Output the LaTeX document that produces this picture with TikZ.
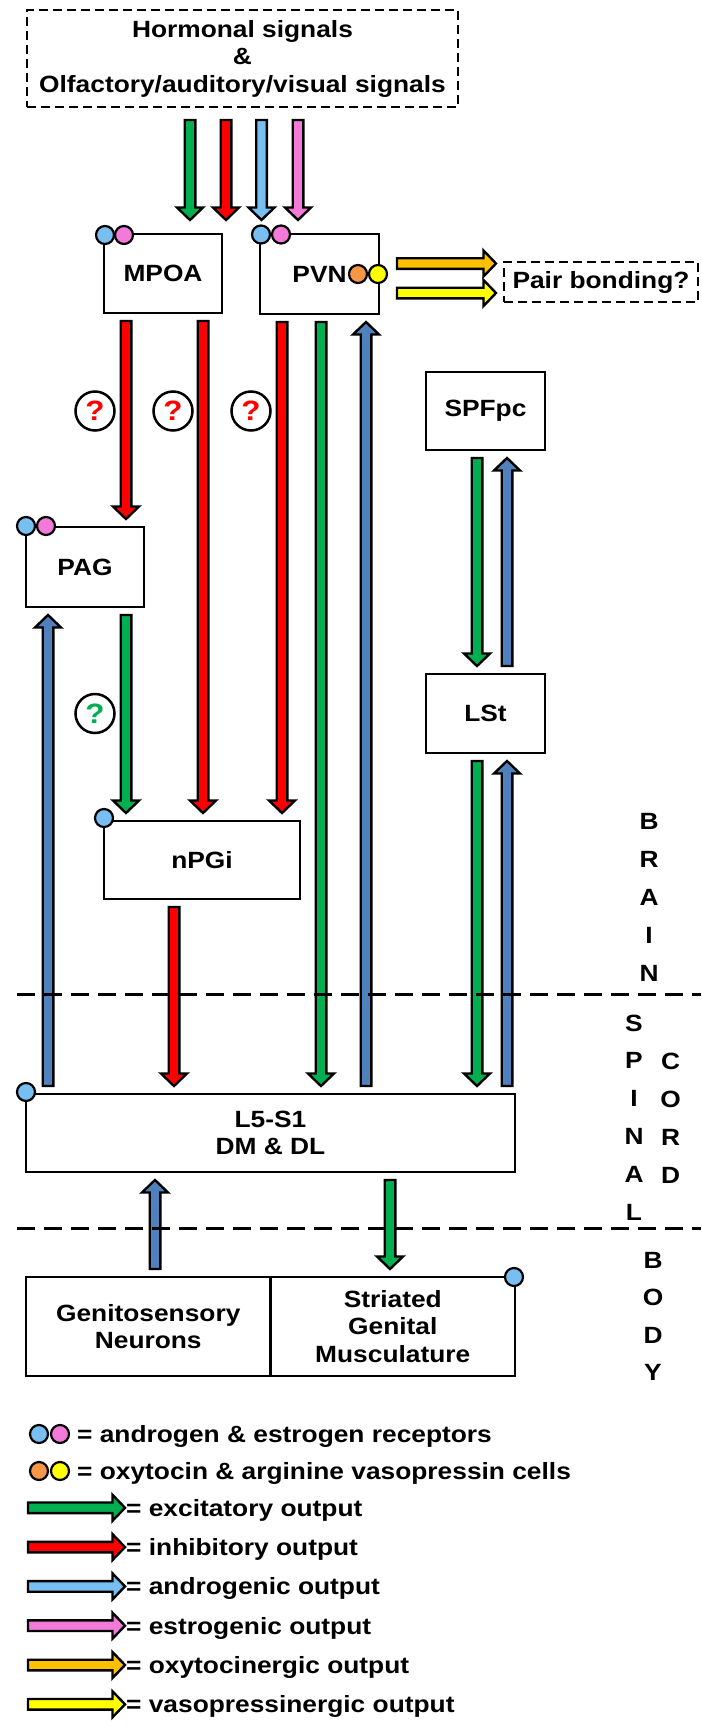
\documentclass[tikz,border=0pt]{standalone}
\usepackage{fontspec}
\setmainfont{Liberation Sans}[FakeStretch=1.12]
\usetikzlibrary{calc}

\definecolor{cgreen}{HTML}{00B050}
\definecolor{cred}{HTML}{FF0000}
\definecolor{clight}{HTML}{79BEF0}
\definecolor{cpink}{HTML}{F47AD9}
\definecolor{csteel}{HTML}{4F81BD}
\definecolor{corange}{HTML}{FFC000}
\definecolor{coxy}{HTML}{F79646}
\definecolor{cyellow}{HTML}{FFFF00}

\newcommand\lbl{\fontsize{23.5}{27.5}\selectfont\bfseries}
\newcommand\qfnt{\fontsize{28}{30}\selectfont\bfseries}
\newcommand\awid{5.3pt}
\newcommand\ahed{13pt}
\newcommand\alen{12.5pt}

\tikzstyle{box}  = [draw, line width=2.6pt, fill=white, outer sep=8pt, inner sep=0pt, align=center, font=\lbl, minimum width=118pt, minimum height=79pt]
\tikzstyle{dbox} = [box, dash pattern=on 9pt off 5pt]
\tikzstyle{rcp}  = [circle, draw, line width=2.2pt, minimum size=18pt, inner sep=0pt]
\tikzstyle{qm}   = [circle, draw, line width=2.5pt, fill=white, minimum size=39pt, inner sep=0pt, font=\qfnt]
\tikzstyle{side} = [inner sep=0pt, font=\lbl]
\tikzstyle{lgd}  = [anchor=west, inner sep=1pt, font=\lbl, text height=20pt, text depth=3.4pt]
\tikzstyle{sep}  = [line width=3pt, dash pattern=on 18pt off 9pt]
\tikzstyle{fat}  = [draw=black, line width=2.4pt, line join=miter, to path={
    ($(\tikztostart)!\awid!90:(\tikztotarget)$)
    -- ($($(\tikztotarget)!\alen!(\tikztostart)$)!\awid!90:(\tikztotarget)$)
    -- ($($(\tikztotarget)!\alen!(\tikztostart)$)!\ahed!90:(\tikztotarget)$)
    -- (\tikztotarget)
    -- ($($(\tikztotarget)!\alen!(\tikztostart)$)!\ahed!-90:(\tikztotarget)$)
    -- ($($(\tikztotarget)!\alen!(\tikztostart)$)!\awid!-90:(\tikztotarget)$)
    -- ($(\tikztostart)!\awid!-90:(\tikztotarget)$)
    -- cycle}]

\begin{document}
\begin{tikzpicture}[x=1pt, y=-1pt]
  \useasboundingbox (0,0) rectangle (701,1731);
  % boxes
  \draw
    node[dbox, outer sep=13pt, minimum width=431pt, minimum height=97pt] (top) at (242.5,58.5) {Hormonal signals\\ \&\\ Olfactory/auditory/visual signals}
    node[box] (mpoa) at (163,273.5) {MPOA}
    node[box, minimum width=119pt, minimum height=80pt] (pvn) at (319.5,274) {PVN}
    node[dbox, minimum width=194pt, minimum height=40pt] (pair) at (601,282) {Pair bonding?}
    node[box, minimum width=119pt, minimum height=78pt] (spf) at (485.5,411) {SPFpc}
    node[box, minimum height=80pt] (pag) at (85,567) {PAG}
    node[box, minimum width=119pt] (lst) at (485.5,713.5) {LSt}
    node[box, minimum width=196pt, minimum height=78pt] (npgi) at (202,860) {nPGi}
    node[box, minimum width=489pt, minimum height=78pt] (cord) at (270.5,1133) {L5-S1\\ DM \& DL}
    node[box, minimum width=244.5pt, minimum height=99pt] (gen) at (148.25,1326.5) {Genitosensory\\ Neurons}
    node[box, minimum width=244.5pt, minimum height=99pt] (mus) at (392.75,1326.5) {Striated\\ Genital\\ Musculature};

  % receptor and cell dots
  \node[rcp, fill=clight] (mpa) at (105,235) {};
  \node[rcp, fill=cpink]  (mpe) at (124,235) {};
  \node[rcp, fill=clight] (pva) at (261,234.5) {};
  \node[rcp, fill=cpink]  (pve) at (281,234.5) {};
  \node[rcp, fill=coxy]   (pvo) at (358,274) {};
  \node[rcp, fill=cyellow](pvy) at (378,274) {};
  \node[rcp, fill=clight] (pga) at (26,526) {};
  \node[rcp, fill=cpink]  (pge) at (46,526) {};
  \node[rcp, fill=clight] (npa) at (104,818) {};
  \node[rcp, fill=clight] (cda) at (26,1092) {};
  \node[rcp, fill=clight] (gna) at (514,1277) {};

  % unknown pathways
  \node[qm, text=cred]   (q1) at (95,411) {?};
  \node[qm, text=cred]   (q2) at (173,411) {?};
  \node[qm, text=cred]   (q3) at (251,411) {?};
  \node[qm, text=cgreen] (q4) at (95,713.5) {?};

  % inputs
  \coordinate (hin) at (0,220);
  \draw[fat, fill=cgreen] (190,0 |- top.south) to (190,0 |- hin);
  \draw[fat, fill=cred]   (226,0 |- top.south) to (226,0 |- hin);
  \draw[fat, fill=clight] (261.5,0 |- top.south) to (261.5,0 |- hin);
  \draw[fat, fill=cpink]  (298,0 |- top.south) to (298,0 |- hin);

  % pair bonding
  \coordinate (ox) at (397,263.5);
  \coordinate (vx) at (397,293);
  \draw[fat, fill=corange] (ox) to (pair.west |- ox);
  \draw[fat, fill=cyellow] (vx) to (pair.west |- vx);

  % brain
  \draw[fat, fill=cred]   (126,0 |- mpoa.south) to (126,0 |- pag.north);
  \draw[fat, fill=cred]   (203,0 |- mpoa.south) to (203,0 |- npgi.north);
  \draw[fat, fill=cred]   (282,0 |- pvn.south) to (282,0 |- npgi.north);
  \draw[fat, fill=cgreen] (321,0 |- pvn.south) to (321,0 |- cord.north);
  \draw[fat, fill=csteel] (366,0 |- cord.north) to (366,0 |- pvn.south);
  \draw[fat, fill=cgreen] (126,0 |- pag.south) to (126,0 |- npgi.north);
  \draw[fat, fill=csteel] (48,0 |- cord.north) to (48,0 |- pag.south);
  \draw[fat, fill=cred]   (174,0 |- npgi.south) to (174,0 |- cord.north);
  \draw[fat, fill=cgreen] (477,0 |- spf.south) to (477,0 |- lst.north);
  \draw[fat, fill=csteel] (507,0 |- lst.north) to (507,0 |- spf.south);
  \draw[fat, fill=cgreen] (477,0 |- lst.south) to (477,0 |- cord.north);
  \draw[fat, fill=csteel] (507,0 |- cord.north) to (507,0 |- lst.south);

  % spinal cord and body
  \draw[fat, fill=csteel] (155,0 |- gen.north) to (155,0 |- cord.south);
  \draw[fat, fill=cgreen] (390,0 |- cord.south) to (390,0 |- mus.north);

  % region letters
  \foreach \ch [count=\i] in {B,R,A,I,N}
    \node[side] (br\i) at (649,783+38*\i) {\ch};
  \foreach \ch [count=\i] in {S,P,I,N,A,L}
    \node[side] (sp\i) at (634,985.2+37.8*\i) {\ch};
  \foreach \ch [count=\i] in {C,O,R,D}
    \node[side] (cd\i) at (670.5,1023+38*\i) {\ch};
  \foreach \ch [count=\i] in {B,O,D,Y}
    \node[side] (bd\i) at (653,1222.5+37.5*\i) {\ch};

  % legend
  \node[rcp, fill=clight] (ka) at (39,1434) {};
  \node[rcp, fill=cpink]  (ke) at (60,1434) {};
  \node[lgd] (kr) at (76,1434) {= androgen \& estrogen receptors};
  \node[rcp, fill=coxy]   (ko) at (39,1471) {};
  \node[rcp, fill=cyellow](ky) at (60,1471) {};
  \node[lgd] (kc) at (76,1471) {= oxytocin \& arginine vasopressin cells};
  \foreach \c/\t [count=\i] in {cgreen/excitatory, cred/inhibitory, clight/androgenic, cpink/estrogenic, corange/oxytocinergic, cyellow/vasopressinergic} {
    \node[lgd] (lg\i) at (125,1468.5+39.3*\i) {= \t\ output};
    \coordinate (la\i) at (28,1468.5+39.3*\i);
    \draw[fat, fill=\c] (la\i) to (lg\i.west);
  }

  % brain / spinal cord / body borders
  \draw[sep] (17,994) -- (701,994);
  \draw[sep] (17,1228) -- (701,1228);
\end{tikzpicture}
\end{document}
